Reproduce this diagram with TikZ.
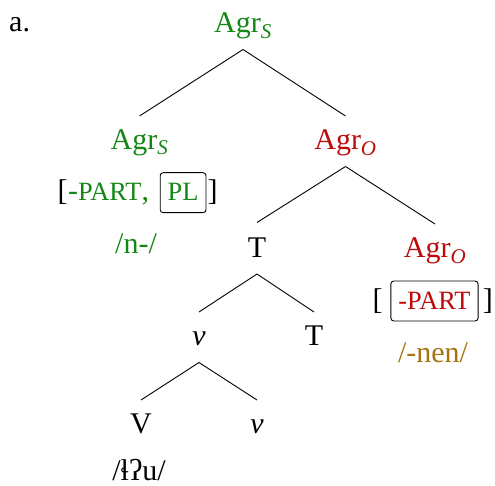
\documentclass[tikz,border=0pt]{standalone}
\usepackage{fontspec}
\setmainfont{Liberation Serif}
\definecolor{agrs}{RGB}{20,135,20}
\definecolor{agro}{RGB}{190,10,10}
\definecolor{phon}{RGB}{165,115,15}
\newcommand\smc[1]{{\fontsize{26.4}{30}\selectfont #1}}
\begin{document}
\begin{tikzpicture}[x=1pt,y=1pt,
  every node/.style={font=\fontsize{30}{36}\selectfont},
  lbl/.style={anchor=base, inner sep=0pt},
  piece/.style={anchor=base west, inner sep=0pt},
  edge/.style={line width=0.9pt},
  fbox/.style={draw=black, rounded corners=3pt, line width=0.9pt, anchor=base west,
    inner xsep=7.5pt, inner ysep=3pt, text height=25.3pt, text depth=8.7pt}]
\useasboundingbox (0,0) rectangle (495,-486);

\node[piece] (a) at (9,-32) {a.};

% tree labels
\node[lbl, text=agrs] (root) at (243,-33) {Agr\textsubscript{\textit{S}}};
\node[lbl, text=agrs] (s) at (139.5,-149.5) {Agr\textsubscript{\textit{S}}};
\node[lbl, text=agro] (o1) at (345.5,-150) {Agr\textsubscript{\textit{O}}};
\node[lbl] (t1) at (257,-257.5) {T};
\node[lbl, text=agro] (o2) at (435,-258) {Agr\textsubscript{\textit{O}}};
\node[lbl] (v1) at (199,-345) {\textit{v}};
\node[lbl] (t2) at (314,-345) {T};
\node[lbl] (vv) at (141,-433) {V};
\node[lbl] (v2) at (257,-433) {\textit{v}};

% edges
\draw[edge] ([yshift=-16.5pt]root.base) -- ([yshift=33.5pt]s.base);
\draw[edge] ([yshift=-16.5pt]root.base) -- ([yshift=34pt]o1.base);
\draw[edge] ([yshift=-16.5pt]o1.base) -- ([yshift=35pt]t1.base);
\draw[edge] ([yshift=-16.5pt]o1.base) -- ([yshift=34pt]o2.base);
\draw[edge] ([yshift=-16.5pt]t1.base) -- ([yshift=33pt]v1.base);
\draw[edge] ([yshift=-16.5pt]t1.base) -- ([yshift=33pt]t2.base);
\draw[edge] ([yshift=-17.5pt]v1.base) -- ([yshift=33pt]vv.base);
\draw[edge] ([yshift=-17.5pt]v1.base) -- ([yshift=33pt]v2.base);

% feature bundle of Agr_S
\node[piece] (sb1) at (57.5,-201) {[};
\node[piece, text=agrs] (sb2) at (sb1.base east) {-\smc{PART},};
\node[fbox, text=agrs] (sb3) at ([xshift=10.5pt]sb2.base east) {\smc{PL}};
\node[piece] (sb4) at ([xshift=1pt]sb3.base east) {]};

% feature bundle of Agr_O
\node[piece] (ob1) at (372.5,-309.3) {[};
\node[fbox, text=agro] (ob2) at ([xshift=7.5pt]ob1.base east) {\smc{-PART}};
\node[piece] (ob3) at ([xshift=4pt]ob2.base east) {]};

% exponents
\node[lbl, text=agrs] (sp) at (136,-253.3) {/n-/};
\node[lbl, text=phon] (op) at (433,-362) {/-nen/};
\node[lbl] (vp) at (139,-480) {/ɬʔu/};
\end{tikzpicture}
\end{document}
